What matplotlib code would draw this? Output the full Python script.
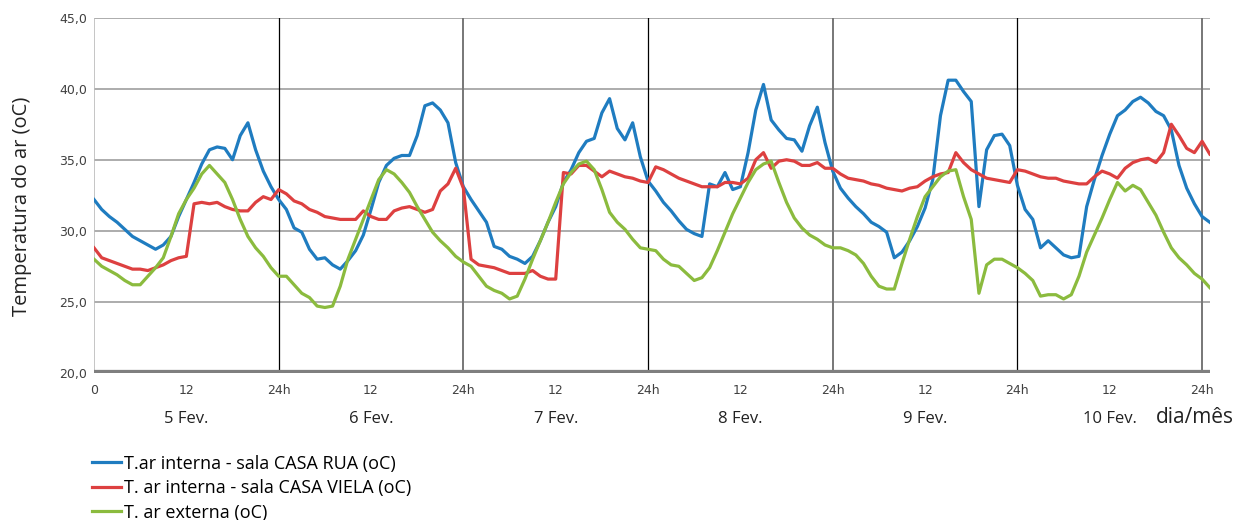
import numpy as np
import matplotlib
matplotlib.use("Agg")
import matplotlib.pyplot as plt
from matplotlib.ticker import FuncFormatter

# hourly readings, 0h = start of 5 Fev.
hours = np.arange(0, 146)

rua = [32.2, 31.5, 31.0, 30.6, 30.1, 29.6, 29.3, 29.0, 28.7, 29.0, 29.6, 31.0, 32.2, 33.4, 34.7, 35.7,
       35.9, 35.8, 35.0, 36.7, 37.6, 35.7, 34.2, 33.1,
       32.2, 31.5, 30.2, 29.9, 28.7, 28.0, 28.1, 27.6, 27.3, 27.9, 28.6, 29.7, 31.5, 33.4, 34.6, 35.1,
       35.3, 35.3, 36.7, 38.8, 39.0, 38.5, 37.6, 34.8,
       33.1, 32.2, 31.4, 30.6, 28.9, 28.7, 28.2, 28.0, 27.7, 28.2, 29.3, 30.6, 31.7, 33.4, 34.3, 35.5,
       36.3, 36.5, 38.3, 39.3, 37.2, 36.4, 37.6, 35.2,
       33.5, 32.8, 32.0, 31.4, 30.7, 30.1, 29.8, 29.6, 33.3, 33.1, 34.1, 32.9, 33.1, 35.5, 38.5, 40.3,
       37.8, 37.1, 36.5, 36.4, 35.6, 37.4, 38.7, 36.2,
       34.2, 33.0, 32.3, 31.7, 31.2, 30.6, 30.3, 29.9, 28.1, 28.5, 29.3, 30.3, 31.6, 33.6, 38.1, 40.6,
       40.6, 39.8, 39.1, 31.7, 35.7, 36.7, 36.8, 36.0,
       33.2, 31.5, 30.8, 28.8, 29.3, 28.8, 28.3, 28.1, 28.2, 31.7, 33.6, 35.3, 36.8, 38.1, 38.5, 39.1,
       39.4, 39.0, 38.4, 38.1, 37.1, 34.6, 33.0, 31.9, 31.0, 30.6]

viela = [28.8, 28.1, 27.9, 27.7, 27.5, 27.3, 27.3, 27.2, 27.4, 27.6, 27.9, 28.1, 28.2, 31.9, 32.0, 31.9,
         32.0, 31.7, 31.5, 31.4, 31.4, 32.0, 32.4, 32.2,
         32.9, 32.6, 32.1, 31.9, 31.5, 31.3, 31.0, 30.9, 30.8, 30.8, 30.8, 31.4, 31.0, 30.8, 30.8, 31.4,
         31.6, 31.7, 31.5, 31.3, 31.5, 32.8, 33.3, 34.4,
         33.0, 28.0, 27.6, 27.5, 27.4, 27.2, 27.0, 27.0, 27.0, 27.2, 26.8, 26.6, 26.6, 34.1, 34.0, 34.6,
         34.6, 34.2, 33.8, 34.2, 34.0, 33.8, 33.7, 33.5,
         33.4, 34.5, 34.3, 34.0, 33.7, 33.5, 33.3, 33.1, 33.1, 33.1, 33.4, 33.4, 33.3, 33.7, 35.0, 35.5,
         34.4, 34.9, 35.0, 34.9, 34.6, 34.6, 34.8, 34.4,
         34.4, 34.0, 33.7, 33.6, 33.5, 33.3, 33.2, 33.0, 32.9, 32.8, 33.0, 33.1, 33.5, 33.8, 34.0, 34.1,
         35.5, 34.8, 34.3, 34.0, 33.7, 33.6, 33.5, 33.4,
         34.3, 34.2, 34.0, 33.8, 33.7, 33.7, 33.5, 33.4, 33.3, 33.3, 33.8, 34.2, 34.0, 33.7, 34.4, 34.8,
         35.0, 35.1, 34.8, 35.5, 37.5, 36.7, 35.8, 35.5, 36.3, 35.4]

externa = [28.0, 27.5, 27.2, 26.9, 26.5, 26.2, 26.2, 26.8, 27.4, 28.1, 29.6, 31.2, 32.2, 33.0, 34.0, 34.6,
           34.0, 33.4, 32.2, 30.8, 29.6, 28.8, 28.2, 27.4,
           26.8, 26.8, 26.2, 25.6, 25.3, 24.7, 24.6, 24.7, 26.1, 28.0, 29.4, 30.8, 32.2, 33.6, 34.3, 34.0,
           33.4, 32.7, 31.7, 30.8, 29.9, 29.3, 28.8, 28.2,
           27.8, 27.5, 26.8, 26.1, 25.8, 25.6, 25.2, 25.4, 26.6, 28.0, 29.3, 30.6, 32.0, 33.3, 34.1, 34.7,
           34.9, 34.3, 32.9, 31.3, 30.6, 30.1, 29.4, 28.8,
           28.7, 28.6, 28.0, 27.6, 27.5, 27.0, 26.5, 26.7, 27.4, 28.6, 29.9, 31.2, 32.3, 33.4, 34.3, 34.7,
           34.9, 33.4, 32.0, 30.9, 30.2, 29.7, 29.4, 29.0,
           28.8, 28.8, 28.6, 28.3, 27.7, 26.8, 26.1, 25.9, 25.9, 27.7, 29.4, 31.0, 32.4, 33.1, 33.8, 34.2,
           34.3, 32.4, 30.8, 25.6, 27.6, 28.0, 28.0, 27.7,
           27.4, 27.0, 26.5, 25.4, 25.5, 25.5, 25.2, 25.5, 26.8, 28.5, 29.7, 30.9, 32.2, 33.4, 32.8, 33.2,
           32.9, 32.0, 31.1, 29.9, 28.8, 28.1, 27.6, 27.0, 26.6, 26.0]

day_names = ["5 Fev.", "6 Fev.", "7 Fev.", "8 Fev.", "9 Fev.", "10 Fev."]
labels = ["T.ar interna - sala CASA RUA (oC)",
          "T. ar interna - sala CASA VIELA (oC)",
          "T. ar externa (oC)"]
colors = ["#1f7cc0", "#dd4040", "#8bbb3e"]

fig = plt.figure(figsize=(12.37, 5.2), dpi=100)
ax = fig.add_axes([0.076, 0.283, 0.902, 0.683])

for y, lab, c in zip([rua, viela, externa], labels, colors):
    ax.plot(hours, y, color=c, lw=2.3, label=lab, zorder=3)

ax.set_xlim(0, 145)
ax.set_ylim(20, 45)
ax.set_yticks(np.arange(20, 46, 5))
ax.yaxis.set_major_formatter(FuncFormatter(lambda v, p: f"{v:.1f}".replace(".", ",")))
ax.grid(axis="y", color="#a6a6a6", lw=1.3, zorder=1)
for d in range(1, 7):
    if d % 2 == 0:
        ax.axvline(24 * d, color="#777777", lw=1.4, zorder=2)
    else:
        ax.axvline(24 * d, color="black", lw=0.9, zorder=2)
ax.axvline(0, color="#bbbbbb", lw=1.2, zorder=2)
ax.axhline(20, color="#7f7f7f", lw=4.5, zorder=2)

ax.set_xticks(np.arange(0, 145, 12))
ax.set_xticklabels(["0"] + ["12" if i % 2 else "24h" for i in range(1, 13)])
ax.tick_params(length=0, labelsize=9, colors="#404040", pad=8)
ax.tick_params(axis="y", pad=5)
for s in ax.spines.values():
    s.set_visible(False)

for i, nm in enumerate(day_names):
    ax.text(12 + 24 * i, -0.13, nm, transform=ax.get_xaxis_transform(),
            ha="center", va="center", fontsize=12, family="Open Sans", color="#222222")
ax.text(0.987, -0.125, "dia/mês", transform=ax.transAxes, ha="center", va="center",
        fontsize=15, family="Open Sans", color="#222222")

ax.set_ylabel("Temperatura do ar (oC)", fontsize=14.5, family="Open Sans", color="#222222")
ax.yaxis.set_label_coords(-0.056, 0.47)

fig.legend(loc="upper left", bbox_to_anchor=(0.067, 0.143), frameon=False, handlelength=1.6,
           handletextpad=0.15, labelspacing=0.36, borderpad=0,
           prop={"family": "Open Sans", "size": 13})

fig.savefig("out.png", dpi=100)
